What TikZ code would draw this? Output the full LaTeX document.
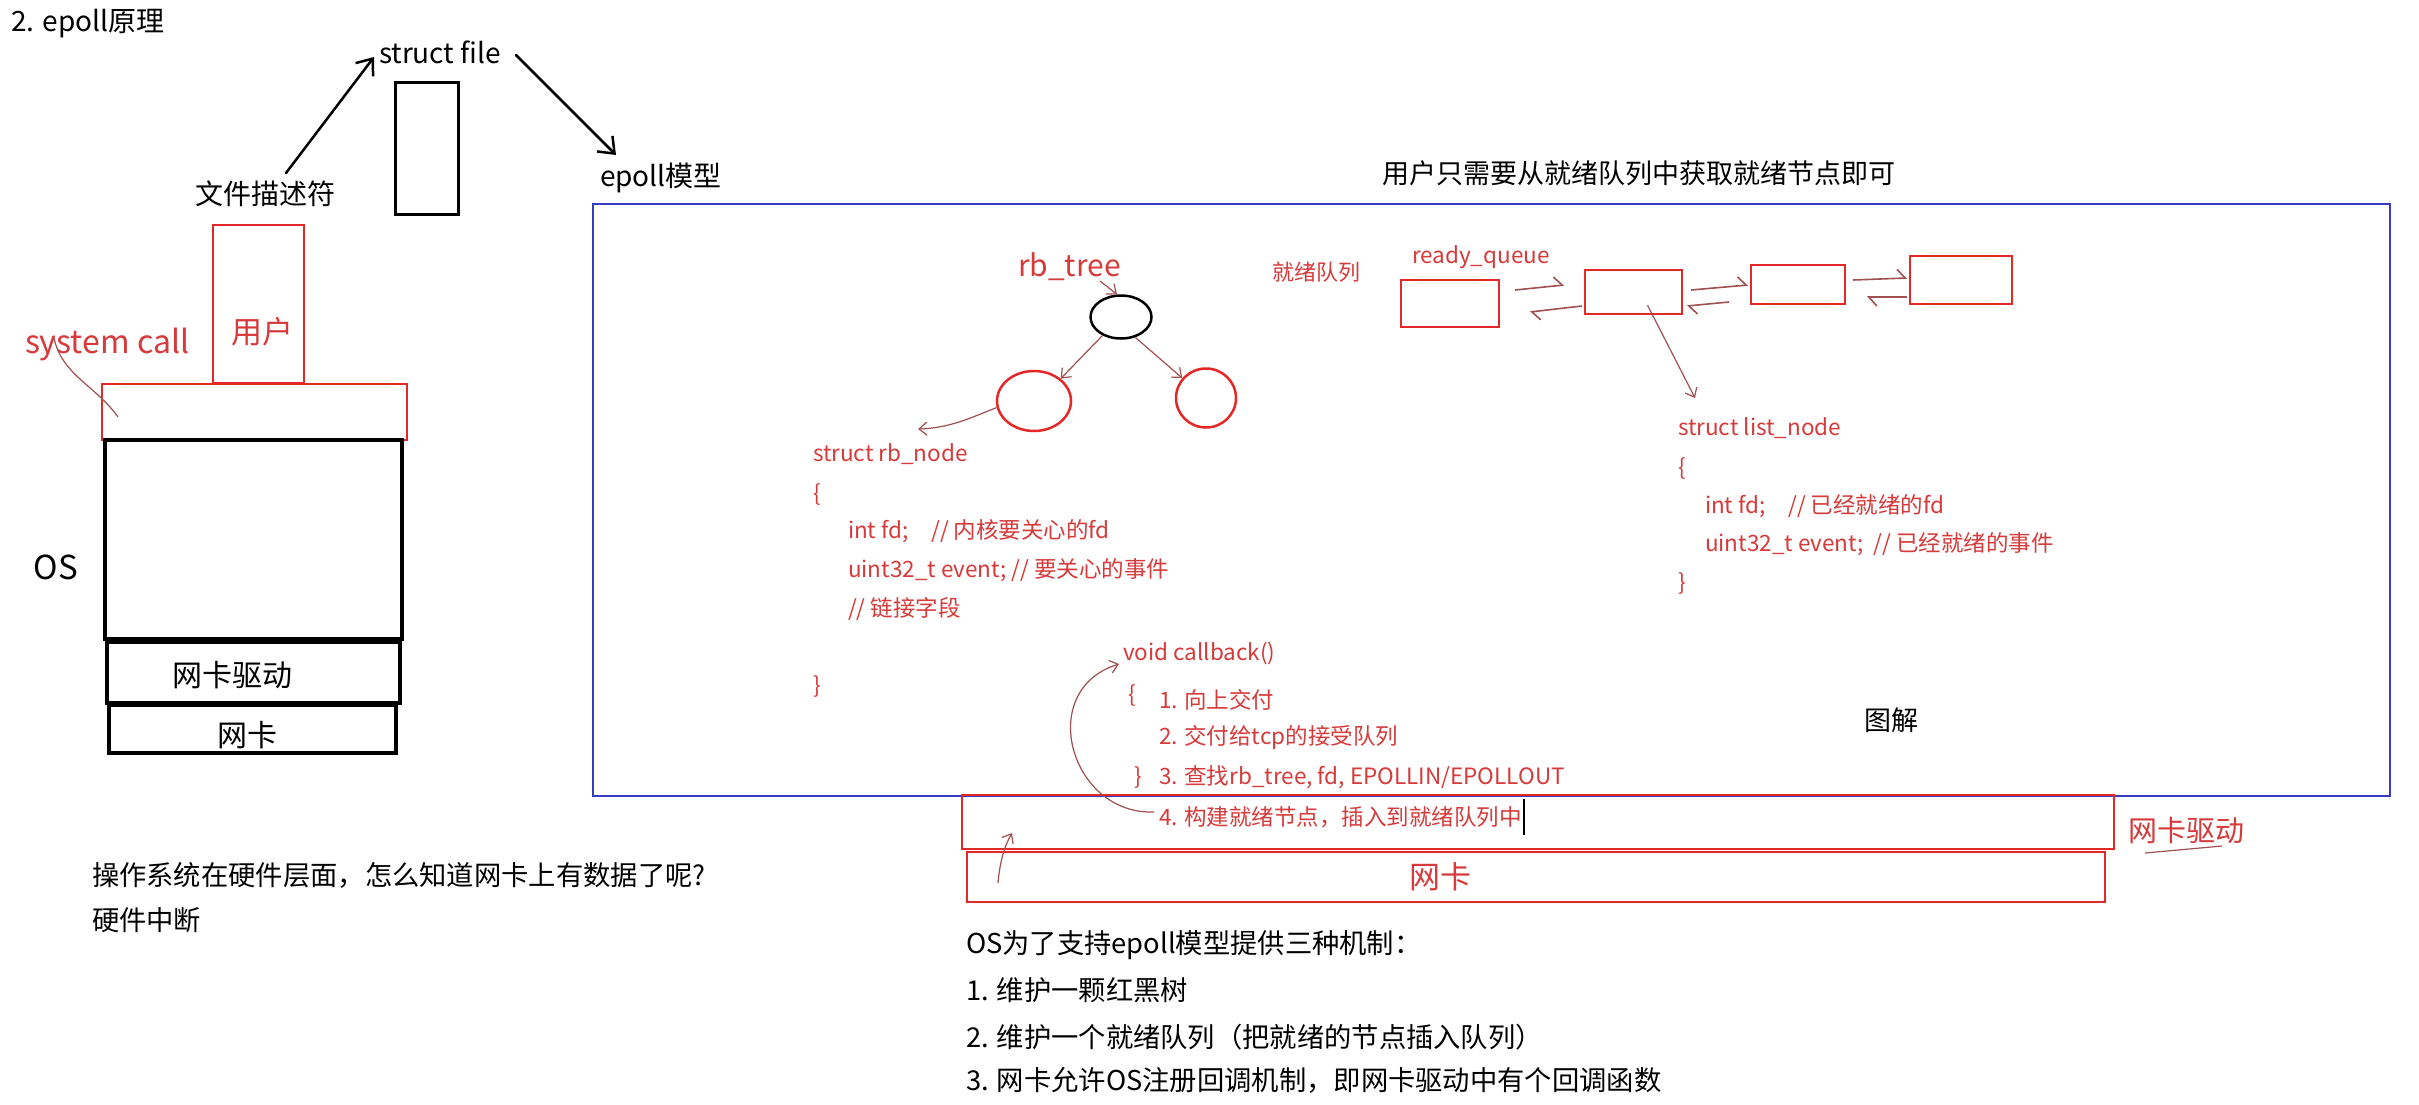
\documentclass[tikz,border=0pt]{standalone}
\usepackage{fontspec}
\setmainfont{Noto Sans CJK SC}
\usetikzlibrary{arrows.meta,calc,shapes.geometric}
\definecolor{boxred}{RGB}{228,40,40}
\definecolor{txtred}{RGB}{214,58,58}
\definecolor{annred}{RGB}{160,80,80}
\definecolor{bluebd}{RGB}{55,60,190}
\begin{document}
\begin{tikzpicture}[x=1pt,y=-1pt,
  base/.style={inner sep=0pt, outer sep=0pt},
  blk/.style={base, font=\fontsize{27.3}{33}\selectfont, text=black},
  redbig/.style={base, font=\fontsize{31}{36}\selectfont, text=txtred},
  code/.style={base, font=\fontsize{22.5}{28}\selectfont, text=txtred, anchor=west},
  blackbox/.style={draw=black, line width=4pt, inner sep=0pt},
  redbox/.style={draw=boxred, line width=2.5pt, inner sep=0pt},
  bluebox/.style={draw=bluebd, line width=2.5pt, inner sep=0pt},
  circ/.style={ellipse, draw=boxred, line width=2.5pt, inner sep=0pt},
  arr/.style={-{Straight Barb[length=14pt,width=22pt]}, line width=2.5pt, line cap=round},
  ann/.style={draw=annred, line width=1.2pt, -{Straight Barb[length=8pt,width=13pt]}},
  annline/.style={draw=annred, line width=1.2pt},
  harp/.style={draw=annred, line width=1.6pt, -{Straight Barb[harpoon,length=8pt,width=18pt]}}
]
\fill[white] (0,0) rectangle (2419,1105);
\useasboundingbox (0,0) rectangle (2419,1105);

% ---------- top left ----------
\node[blk,anchor=west, font=\fontsize{28}{34}\selectfont] (title) at (11,24) {2. epoll原理};
\node[blk,anchor=west, font=\fontsize{28}{34}\selectfont] (sfile) at (379,52) {struct file};
\node[blackbox, line width=3pt, minimum width=63pt, minimum height=131pt] (sfbox) at (426.5,148.5) {};
\node[blk, font=\fontsize{28}{34}\selectfont] (fdlbl) at (265,194) {文件描述符};
\coordinate (a1s) at (286,173);
\coordinate (a1e) at (374,57);
\draw[arr] (a1s) -- (a1e);
\coordinate (a2s) at (516,55);
\coordinate (a2e) at (616,155);
\draw[arr] (a2s) -- (a2e);
\node[blk,anchor=west, font=\fontsize{28}{34}\selectfont] (epm) at (600,178) {epoll模型};

% ---------- left stack ----------
\node[redbox, line width=2pt, minimum width=91pt, minimum height=158pt] (userbox) at (258.5,304) {};
\node[redbig] (userlbl) at (262,332) {用户};
\node[redbig, font=\fontsize{32}{38}\selectfont, anchor=west] (sc) at (25,345) {system call};
\node[redbox, minimum width=305pt, minimum height=56pt] (layer) at (254.5,412) {};
\node[blackbox, minimum width=297pt, minimum height=199pt] (osbox) at (253.5,539.5) {};
\node[blackbox, minimum width=293pt, minimum height=61pt] (drvbox) at (253.5,672.5) {};
\node[blackbox, minimum width=287pt, minimum height=48pt] (nicbox) at (252.5,729) {};
\node[blk, font=\fontsize{33}{38}\selectfont] (oslbl) at (56,567) {OS};
\node[blk, font=\fontsize{30}{36}\selectfont] (drvlbl) at (232,675) {网卡驱动};
\node[blk, font=\fontsize{30}{36}\selectfont] (niclbl) at (247,735) {网卡};
\coordinate (w1) at (54,338);
\coordinate (w2) at (118,417);
\draw[annline] (w1) .. controls (62,375) and (95,385) .. (w2);

% ---------- bottom left ----------
\node[blk,anchor=west] (q1) at (92,875) {操作系统在硬件层面，怎么知道网卡上有数据了呢?};
\node[blk,anchor=west] (q2) at (92,920) {硬件中断};

% ---------- epoll model box ----------
\node[bluebox, minimum width=1797pt, minimum height=592pt] (epbox) at (1491.5,500) {};
\node[blk,anchor=west, font=\fontsize{27}{33}\selectfont] (hint) at (1382,173) {用户只需要从就绪队列中获取就绪节点即可};

% rb tree
\node[redbig, anchor=west, font=\fontsize{30}{36}\selectfont] (rbt) at (1018,267) {rb\_tree};
\node[ellipse, draw=black, line width=2.5pt, minimum width=61pt, minimum height=43pt, inner sep=0pt] (ell) at (1121,317) {};
\node[circ, minimum width=74pt, minimum height=60pt] (lc) at (1034,401) {};
\node[circ, minimum width=60pt, minimum height=59pt] (rc) at (1206,398) {};
\coordinate (r0) at (1100,281);
\draw[ann] (r0) -- (ell.100);
\draw[ann] (ell.225) -- (lc.40);
\draw[ann] (ell.-55) -- (rc.140);
\coordinate (rbn) at (918,429);
\draw[ann] (lc.190) .. controls (970,418) and (950,428) .. (rbn);

\node[code] (rb1) at (813,454) {struct rb\_node};
\node[code] (rb2) at (813,494) {\{};
\node[code] (rb3) at (848,531) {int fd;\quad// 内核要关心的fd};
\node[code] (rb4) at (848,570) {uint32\_t event; // 要关心的事件};
\node[code] (rb5) at (848,609) {// 链接字段};
\node[code] (rb6) at (813,686) {\}};

% ready queue
\node[code, font=\fontsize{22}{28}\selectfont] (rqlbl) at (1272,272) {就绪队列};
\node[code] (rqname) at (1412,257) {ready\_queue};
\node[redbox, minimum width=98pt, minimum height=47pt] (qa) at (1450,303.5) {};
\node[redbox, minimum width=97pt, minimum height=44pt] (qb) at (1633.5,292) {};
\node[redbox, minimum width=94pt, minimum height=39pt] (qc) at (1798,284.5) {};
\node[redbox, minimum width=102pt, minimum height=48pt] (qd) at (1961,280) {};
\coordinate (ab1) at (1515,290); \coordinate (ab2) at (1564,285);
\coordinate (ba1) at (1582,306); \coordinate (ba2) at (1530,312);
\coordinate (bc1) at (1691,290); \coordinate (bc2) at (1748,285);
\coordinate (cb1) at (1729,302); \coordinate (cb2) at (1687,306);
\coordinate (cd1) at (1853,280); \coordinate (cd2) at (1907,278);
\coordinate (dc1) at (1907,297); \coordinate (dc2) at (1867,297);
\draw[harp] (ab1) -- (ab2);
\draw[harp] (ba1) -- (ba2);
\draw[harp] (bc1) -- (bc2);
\draw[harp] (cb1) -- (cb2);
\draw[harp] (cd1) -- (cd2);
\draw[harp] (dc1) -- (dc2);
\coordinate (ln) at (1695,398);
\draw[ann] ($(qb.south)+(14,-10)$) -- (ln);

\node[code] (ln1) at (1678,428) {struct list\_node};
\node[code] (ln2) at (1678,468) {\{};
\node[code] (ln3) at (1705,506) {int fd;\quad // 已经就绪的fd};
\node[code] (ln4) at (1705,544) {uint32\_t event;~~// 已经就绪的事件};
\node[code] (ln5) at (1678,583) {\}};

% callback
\node[code] (cb0) at (1123,653) {void callback()};
\node[code] (cbo) at (1128,695) {\{};
\node[code] (cbs1) at (1159,700) {1. 向上交付};
\node[code] (cbs2) at (1159,738) {2. 交付给tcp的接受队列};
\node[code] (cbc) at (1134,777) {\}};
\node[code] (cbs3) at (1159,777) {3. 查找rb\_tree, fd, EPOLLIN/EPOLLOUT};
\node[code] (cbs4) at (1159,817) {4. 构建就绪节点，插入到就绪队列中};
\coordinate (cur1) at ($(cbs4.east)+(2,-18)$);
\coordinate (cur2) at ($(cbs4.east)+(2,18)$);
\draw[line width=1.5pt] (cur1) -- (cur2);

\node[blk, font=\fontsize{27}{33}\selectfont] (tujie) at (1891,720) {图解};

% NIC driver / NIC boxes
\node[redbox, minimum width=1152pt, minimum height=54pt] (rdrv) at (1538,822) {};
\node[redbox, minimum width=1138pt, minimum height=50pt] (rnic) at (1536,877) {};
\node[redbig] (rniclbl) at (1440,877) {网卡};
\node[redbig, anchor=west, font=\fontsize{29}{35}\selectfont] (rdrvlbl) at (2128,830) {网卡驱动};
\coordinate (u1) at (2145,853); \coordinate (u2) at (2222,846);
\draw[annline] (u1) -- (u2);

\coordinate (big1) at (1154,812);
\coordinate (big2) at (1119,664);
\draw[ann] (big1) .. controls (1070,815) and (1035,690) .. (big2);
\coordinate (sm1) at (998,883);
\coordinate (sm2) at (1012,833);
\draw[ann] (sm1) .. controls (1000,860) and (1005,845) .. (sm2);

% ---------- bottom text ----------
\node[blk,anchor=west] (m0) at (966,945) {OS为了支持epoll模型提供三种机制：};
\node[blk,anchor=west] (m1) at (966,990) {1. 维护一颗红黑树};
\node[blk,anchor=west] (m2) at (966,1037) {2. 维护一个就绪队列（把就绪的节点插入队列）};
\node[blk,anchor=west] (m3) at (966,1080) {3. 网卡允许OS注册回调机制，即网卡驱动中有个回调函数};
\end{tikzpicture}
\end{document}
